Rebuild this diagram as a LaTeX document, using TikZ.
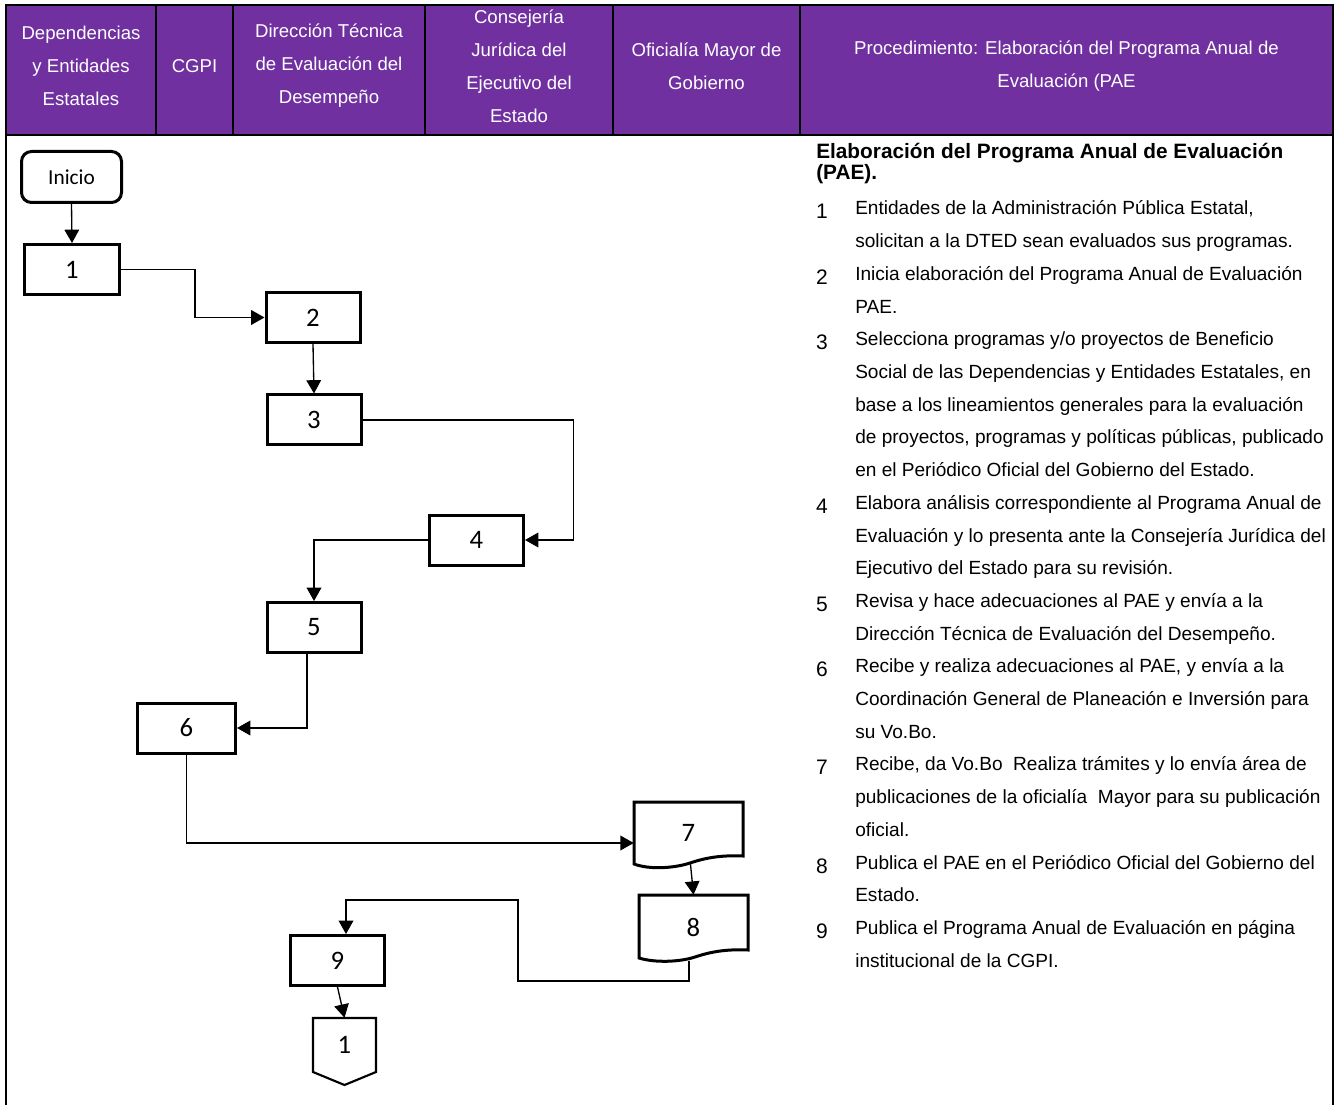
\documentclass[tikz,border=0pt]{standalone}
\usepackage{fontspec}
\setmainfont{Liberation Sans}
\newfontfamily\calib{Carlito}
\usetikzlibrary{arrows.meta,calc}
\definecolor{hdrpurple}{HTML}{7030A0}
\begin{document}
\begin{tikzpicture}[x=0.75pt,y=-0.75pt,
  frame/.style={line width=1.5pt,black},
  hdr/.style={font=\fontsize{13.95}{24.75}\selectfont,text=white,align=center,inner sep=0pt},
  procbox/.style={draw,line width=2.25pt,minimum width=70.5pt,minimum height=37.5pt,inner sep=0pt,font=\calib\fontsize{20}{20}\selectfont},
  ghost/.style={inner sep=0pt,font=\calib\fontsize{20}{20}\selectfont},
  shapeline/.style={line width=2.25pt,line join=miter},
  conn/.style={line width=1pt,-{Triangle[length=10pt,width=11pt]}},
  plain/.style={line width=1pt},
  bodytxt/.style={anchor=base west,inner sep=0pt,font=\fontsize{14.3}{14.3}\selectfont},
  numtxt/.style={anchor=base,inner sep=0pt,font=\fontsize{15.75}{15.75}\selectfont},
  titletxt/.style={anchor=base west,inner sep=0pt,font=\bfseries\fontsize{15.6}{15.6}\selectfont}]
\useasboundingbox (0,0) rectangle (1339,1105);
% header
\fill[hdrpurple] (6,5) rectangle (1333,135);
\draw[frame] (6,1105) -- (6,5) -- (1333,5) -- (1333,1105);
\draw[frame] (6,135) -- (1333,135);
\foreach \x in {156,233,425,613,800} \draw[frame] (\x,5) -- (\x,135);
\node[hdr] (h1) at (81,66) {Dependencias\\y Entidades\\Estatales};
\node[hdr] (h2) at (194.5,66) {CGPI};
\node[hdr] (h3) at (329,66) {Dirección Técnica\\de Evaluación del\\Desempeño};
\node[hdr] (h4) at (519,66.5) {Consejería\\Jurídica del\\Ejecutivo del\\Estado};
\node[hdr] (h5) at (706.5,66.5) {Oficialía Mayor de\\Gobierno};
\node[hdr] (h6) at (1066.5,66.5) {Procedimiento: Elaboración del Programa Anual de\\Evaluación (PAE};
% flow nodes
\node[procbox,rounded corners=7.5pt,minimum width=75pt,minimum height=38.25pt,font=\calib\fontsize{16}{16}\selectfont] (ini) at (71.5,177) {Inicio};
\node[procbox,minimum width=71.25pt] (b1) at (72,269.5) {1};
\node[procbox] (b2) at (313,317.5) {2};
\node[procbox] (b3) at (314,420) {3};
\node[procbox] (b4) at (476.5,540) {4};
\node[procbox] (b5) at (314,627.5) {5};
\node[procbox,minimum width=73.5pt] (b6) at (186.5,728) {6};
\node[ghost,minimum width=81.75pt,minimum height=46.5pt] (d7) at (688.5,833) {7};
\draw[shapeline] (634,802) -- (743,802) -- (743,856)
  .. controls (720,855) and (705,858) .. (690,863)
  .. controls (675,868) and (650,870) .. (634,864) -- cycle;
\node[ghost,minimum width=81.75pt,minimum height=48pt] (d8) at (693.5,927) {8};
\draw[shapeline] (639,895) -- (748,895) -- (748,950)
  .. controls (725,949) and (710,952) .. (695,957)
  .. controls (680,962) and (655,963) .. (639,958) -- cycle;
\node[procbox] (b9) at (337.5,960.5) {9};
\node[ghost,minimum width=47.25pt,minimum height=40.5pt] (off) at (344.5,1045) {1};
\draw[shapeline,line width=1.6pt] (313,1018) -- (376,1018) -- (376,1072) -- (344.5,1085) -- (313,1072) -- cycle;
% connectors
\coordinate (r1) at (518,981);
\coordinate (r2) at (346,900);
\draw[conn] (ini.south) -- (b1.north);
\draw[conn] (b1.east) -- ++(74,0) |- (b2.west);
\draw[conn] (b2.south) -- (b3.north);
\draw[conn] (b3.east) -- ++(211,0) |- (b4.east);
\draw[conn] (b4.west) -| (b5.north);
\draw[conn] ([xshift=-5.25pt]b5.south) |- (b6.east);
\draw[conn] (b6.south) |- ([yshift=-7.5pt]d7.west);
\draw[conn] ([xshift=1.5pt]d7.south) -- (d8.north);
\draw[conn] ([xshift=-3.4pt,yshift=-1pt]d8.south) |- (r1) |- (r2) -- (r2 |- b9.north);
\draw[conn] (b9.south) -- (off.north);
% description
\node[titletxt] (t1) at (816,159) {Elaboración del Programa Anual de Evaluación};
\node[titletxt] (t2) at (816,180) {(PAE).};
\foreach \i/\t in {
 0/{Entidades de la Administración Pública Estatal,},
 1/{solicitan a la DTED sean evaluados sus programas.},
 2/{Inicia elaboración del Programa Anual de Evaluación},
 3/{PAE.},
 4/{Selecciona programas y/o proyectos de Beneficio},
 5/{Social de las Dependencias y Entidades Estatales, en},
 6/{base a los lineamientos generales para la evaluación},
 7/{de proyectos, programas y políticas públicas, publicado},
 8/{en el Periódico Oficial del Gobierno del Estado.},
 9/{Elabora análisis correspondiente al Programa Anual de},
 10/{Evaluación y lo presenta ante la Consejería Jurídica del},
 11/{Ejecutivo del Estado para su revisión.},
 12/{Revisa y hace adecuaciones al PAE y envía a la},
 13/{Dirección Técnica de Evaluación del Desempeño.},
 14/{Recibe y realiza adecuaciones al PAE, y envía a la},
 15/{Coordinación General de Planeación e Inversión para},
 16/{su Vo.Bo.},
 17/{Recibe, da Vo.Bo~ Realiza trámites y lo envía área de},
 18/{publicaciones de la oficialía~ Mayor para su publicación},
 19/{oficial.},
 20/{Publica el PAE en el Periódico Oficial del Gobierno del},
 21/{Estado.},
 22/{Publica el Programa Anual de Evaluación en página},
 23/{institucional de la CGPI.}}
 \node[bodytxt] (L\i) at (855,{215+32.7*\i}) {\t};
\foreach \k/\n in {0/1,2/2,4/3,9/4,12/5,14/6,17/7,20/8,22/9}
 \node[numtxt] (N\n) at (822,{219+32.7*\k}) {\n};
\end{tikzpicture}
\end{document}
